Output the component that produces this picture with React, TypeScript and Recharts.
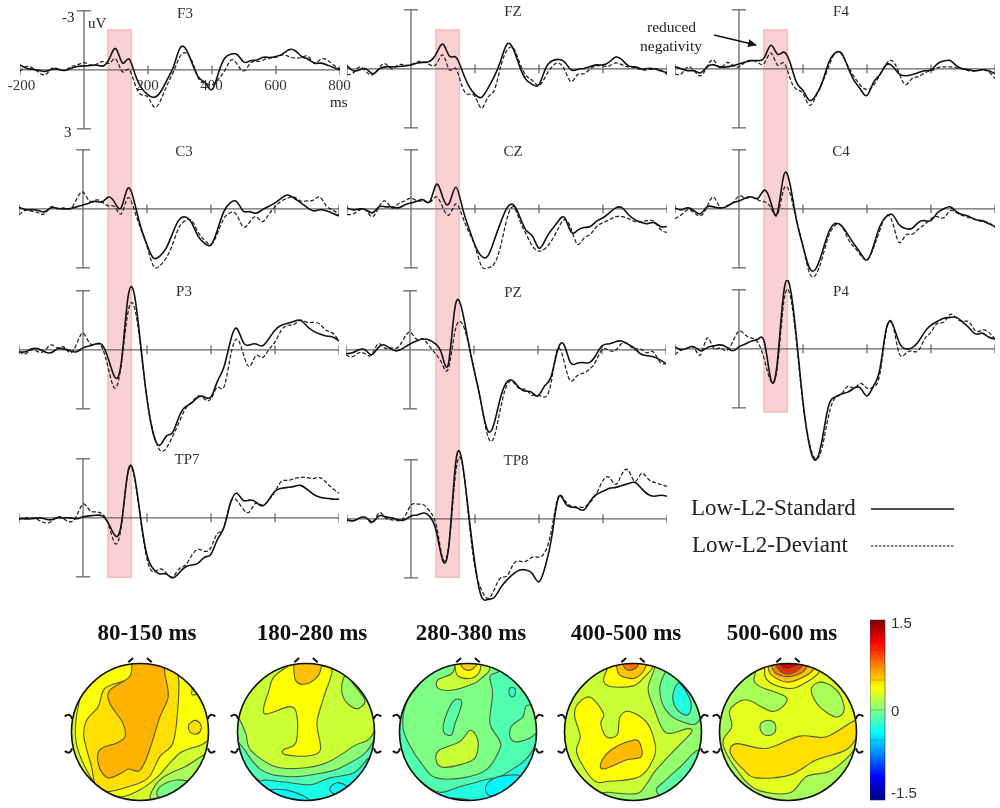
import { LineChart, Line, XAxis, YAxis, ReferenceLine, ReferenceArea, ReferenceDot, ScatterChart, Scatter, BarChart, Bar } from 'recharts'

const TIMES = [
  -200, -180, -160, -140, -120, -100, -80, -60, -40, -20,
  0, 20, 40, 60, 80, 100, 120, 140, 160, 180,
  200, 220, 240, 260, 280, 300, 320, 340, 360, 380,
  400, 420, 440, 460, 480, 500, 520, 540, 560, 580,
  600, 620, 640, 660, 680, 700, 720, 740, 760, 780,
  800,
]
const X_TICKS = [-200, 200, 400, 600, 800]
const X_TICK_LABELS = [-200, 200, 400, 600, 800]
const BAND_MS = [78, 151]

// amplitudes in uV, negative is drawn upwards
const F3_STD = [
  -.25, -.08, -.03, .03, .08, -.03, -.03, .03, -.08, -.17,
  -.2, -.22, -.24, -.2, -.6, -1.07, -.35, -.56, .25, .93,
  1.27, 1.39, 1.1, .5, -.17, -1.1, -1.02, -.25, .42, .68,
  1.0, .17, -.6, -.81, -.76, -.39, -.46, -.5, -.64, -.63,
  -.68, -.8, -1.02, -.97, -.68, -.54, -.34, -.34, -.25, -.12,
  0,
]
const F3_DEV = [
  .08, -.17, -.08, .14, .24, -.08, -.03, .03, -.17, -.25,
  -.37, -.25, -.3, -.42, -.34, -.54, .1, -.03, .76, 1.27,
  1.39, 1.9, 1.53, .76, .08, -.68, -.85, -.34, .5, .68,
  .76, .47, .03, -.5, -.25, .05, -.34, -.42, -.5, -.6,
  -.64, -.76, -.68, -.6, -.64, -.68, -.34, -.54, -.5, -.25,
  -.05,
]
const C3_STD = [
  -.08, .03, .05, .08, .15, -.05, -.03, 0, -.02, -.1,
  -.2, -.3, -.38, -.35, -.6, -.3, -.08, -1.05, -.37, .9,
  1.83, 2.5, 2.4, 2.0, 1.24, .56, .42, .73, 1.4, 1.75,
  1.83, 1.07, .14, -.3, -.37, .1, .14, .22, .05, -.12,
  -.3, -.54, -.7, -.54, -.32, -.08, .1, .05, .1, .22,
  .36,
]
const C3_DEV = [
  .3, .08, .12, .2, .25, -.1, 0, -.05, 0, -.5,
  -.85, -.4, -.45, -.35, -.15, -.1, .25, -.55, .05, 1.0,
  1.9, 2.9, 2.9, 2.5, 1.8, .95, .6, .6, 1.2, 1.6,
  1.8, 1.25, .5, .2, .3, .9, .7, .4, .65, .3,
  -.1, -.4, -.55, -.6, -.4, -.4, -.45, -.6, -.15, .05,
  .3,
]
const P3_STD = [
  .1, .1, -.05, -.05, .1, .15, -.05, -.05, .05, .1,
  -.1, -.2, -.3, -.25, .5, 1.4, .6, -2.6, -2.85, -.3,
  2.5, 4.3, 4.85, 4.4, 4.2, 3.4, 2.9, 2.7, 2.4, 2.4,
  2.4, 1.6, .9, -.4, -1.1, -.4, -.25, -.3, -.2, -.55,
  -1.0, -1.25, -1.35, -1.45, -1.5, -1.2, -.95, -.8, -.7, -.65,
  -.45,
]
const P3_DEV = [
  .1, .2, 0, .1, .05, -.25, -.1, -.15, .15, -.3,
  -.85, -.35, -.3, -.1, 1.0, 1.95, .7, -1.85, -2.2, -.15,
  2.5, 4.2, 5.1, 5.0, 4.4, 3.7, 3.0, 2.65, 2.35, 2.5,
  2.5, 1.9, 1.9, .4, -.55, .15, .85, .3, .4, 0,
  -.4, -1.0, -1.25, -1.3, -1.5, -1.4, -1.4, -1.3, -1.0, -.85,
  -.45,
]
const TP7_STD = [
  .05, .05, .05, 0, .05, .1, 0, 0, 0, .05,
  -.05, -.1, -.13, -.1, .3, .9, .3, -2.3, -2.2, 0,
  1.9, 2.6, 2.85, 2.85, 3.05, 2.8, 2.5, 2.4, 2.3, 2.0,
  1.85, 1.1, .5, -.7, -1.25, -.9, -.9, -.8, -.6, -.9,
  -1.35, -1.5, -1.55, -1.6, -1.65, -1.45, -1.2, -1.05, -1.0, -.95,
  -.95,
]
const TP7_DEV = [
  .05, 0, 0, .1, .25, .2, -.05, .05, .2, -.1,
  -.7, -.4, -.3, -.2, .35, 1.3, .4, -2.25, -2.1, .1,
  2.1, 2.75, 2.6, 2.8, 3.0, 2.6, 2.4, 1.9, 1.6, 1.7,
  1.5, .8, .5, -.75, -.9, -.45, -.3, -.75, -.65, -.9,
  -1.35, -1.85, -1.9, -2.0, -2.05, -2.05, -2.0, -2.05, -1.8, -1.5,
  -1.25,
]
const FZ_STD = [
  -.15, .1, .05, 0, .25, .02, -.1, -.1, -.12, -.15,
  -.2, -.3, -.33, -.4, -.8, -1.25, -.65, -.6, .1, .85,
  1.3, 1.45, 1.0, .4, -.4, -1.25, -1.0, -.1, .55, .8,
  .8, 0, -.4, -.48, -.35, .05, .03, -.02, -.12, -.2,
  -.2, -.35, -.6, -.45, -.15, -.1, 0, -.02, 0, .1,
  .2,
]
const FZ_DEV = [
  .3, .2, -.1, .15, .3, -.05, -.25, 0, -.2, -.2,
  -.2, -.35, -.35, -.2, -.25, -.7, .05, -.02, .9, 1.3,
  1.4, 2.0, 1.45, 1.1, -.1, -.95, -1.05, -.3, .35, .6,
  .85, .4, -.1, -.3, .05, .65, .3, .25, 0, -.15,
  -.15, -.15, -.3, -.2, -.1, -.05, .05, .05, 0, .05,
  .3,
]
const CZ_STD = [
  -.05, .05, 0, .05, .2, -.1, -.1, -.1, -.05, -.2,
  -.3, -.4, -.45, -.4, -1.25, -.55, -.3, -1.1, -.1, .95,
  1.85, 2.4, 2.4, 1.6, .7, -.05, -.2, .4, 1.1, 1.4,
  2.0, 1.56, 1.05, .63, .45, 1.17, 1.1, .95, .9, .63,
  .45, .2, -.05, -.05, .3, .55, .7, .75, .7, .9,
  .9,
]
const CZ_DEV = [
  .3, .25, .05, .1, .4, -.1, -.4, -.05, -.25, -.4,
  -.55, -.4, -.4, -.35, -.6, -.05, .3, -.25, .35, 1.15,
  1.9, 2.9, 3.0, 2.8, 1.9, .5, -.1, .6, 1.3, 1.9,
  2.15, 2.0, 1.6, 1.0, .55, 1.0, 1.8, 1.5, 1.3, .9,
  .7, .55, .4, .4, .5, .65, .65, .6, .65, 1.05,
  1.2,
]
const PZ_STD = [
  .2, .15, 0, 0, .25, -.1, -.25, -.05, .05, -.1,
  -.3, -.45, -.55, -.5, -.3, .25, .7, -2.1, -2.2, -.6,
  1.0, 2.5, 4.0, 3.9, 2.6, 1.7, 1.55, 1.9, 2.1, 2.15,
  2.35, 1.85, 1.4, .1, -.3, .6, .7, .65, .65, .3,
  -.2, -.3, -.4, -.45, -.3, -.1, .2, .3, .35, .5,
  .7,
]
const PZ_DEV = [
  .25, .35, .15, .2, .25, -.3, -.1, -.1, -.1, -.55,
  -.9, -.55, -.55, -.2, .2, .7, .95, -.9, -1.4, -.5,
  1.0, 2.5, 4.2, 4.55, 3.2, 1.9, 1.6, 1.95, 2.0, 2.3,
  2.3, 2.4, 1.75, 0, .5, 1.55, 1.35, 1.2, 1.0, .6,
  0, 0, .05, -.3, -.3, -.05, -.05, .15, .1, .6,
  .7,
]
const TP8_STD = [
  .05, .1, -.05, -.05, .15, -.15, -.1, -.05, .05, .05,
  -.15, -.2, -.3, -.1, .7, 2.15, 1.1, -2.9, -2.9, -.3,
  2.3, 3.95, 4.1, 4.0, 3.5, 3.1, 2.8, 2.6, 2.6, 2.8,
  3.2, 2.4, .9, -1.05, -.85, -.6, -.55, -.45, -.9, -1.25,
  -1.4, -1.55, -1.6, -1.7, -1.8, -1.85, -1.55, -1.25, -1.15, -1.2,
  -1.15,
]
const TP8_DEV = [
  .05, .1, -.05, -.05, .2, -.3, -.05, .05, .1, -.1,
  -.7, -.75, -.7, -.35, .4, 2.05, 1.05, -2.4, -2.8, -.1,
  2.5, 3.6, 4.05, 3.6, 3.0, 2.9, 2.3, 2.15, 2.15, 1.95,
  1.95, 1.65, .5, -1.1, -.95, -.65, -.6, -.6, -.85, -1.3,
  -1.95, -2.1, -1.75, -2.3, -2.45, -1.9, -2.3, -2.05, -1.85, -1.75,
  -1.65,
]
const F4_STD = [
  -.1, 0, .1, .1, .2, -.1, -.2, -.1, -.1, -.15,
  -.25, -.35, -.42, -.42, -.6, -1.2, -.75, -.85, -.3, .7,
  1.1, 1.6, 1.35, .7, -.3, -.8, -.8, -.1, .6, 1.05,
  1.35, .7, .3, -.2, -.13, .25, .35, .3, .2, .1,
  .05, -.25, -.4, -.42, -.15, 0, .05, .1, .05, .1,
  .25,
]
const F4_DEV = [
  .25, .25, -.1, .1, .35, -.1, -.45, -.05, -.3, -.2,
  -.1, -.35, -.42, -.3, -.3, -.8, -.2, -.3, .5, 1.05,
  1.25, 1.85, 1.4, .7, -.1, -.8, -.75, -.15, .4, .85,
  1.05, .85, .3, -.25, -.4, .2, .8, .5, .4, .2,
  .1, -.05, -.1, -.1, -.05, 0, .1, .1, .05, .15,
  .5,
]
const C4_STD = [
  -.05, .05, -.05, .1, .25, -.1, -.1, -.05, -.1, -.3,
  -.4, -.55, -.6, -.55, -.95, -.3, .2, -1.7, -1.2, .6,
  1.9, 3.0, 3.05, 2.2, 1.2, .75, .85, 1.3, 1.8, 2.25,
  2.6, 1.9, .9, .4, .3, .8, 1.0, 1.0, .7, .6,
  .6, .2, 0, -.1, .15, .3, .4, .55, .6, .75,
  .9,
]
const C4_DEV = [
  .5, .3, .05, .2, .35, -.1, -.6, -.1, -.15, -.3,
  -.65, -.55, -.6, -.45, -.35, -.05, .3, -1.0, -.75, .6,
  1.9, 3.25, 3.35, 2.5, 1.4, .85, .85, 1.5, 1.95, 2.35,
  2.6, 2.0, 1.1, .35, .7, 1.7, 1.35, 1.3, 1.05, .8,
  .5, .4, .45, .1, .2, .35, .45, .55, .65, .7,
  .95,
]
const P4_STD = [
  -.1, .05, -.05, -.1, .1, -.05, -.15, -.2, -.1, .1,
  -.1, -.25, -.4, -.5, -.3, 1.6, .65, -2.9, -3.1, -.5,
  2.7, 4.9, 5.65, 4.6, 2.9, 2.45, 2.3, 2.2, 2.0, 2.0,
  2.4, 1.9, 1.05, -1.0, -1.25, -.35, 0, -.05, -.35, -.85,
  -1.2, -1.4, -1.55, -1.6, -1.6, -1.35, -1.05, -.75, -.8, -.6,
  -.5,
]
const P4_DEV = [
  .3, .05, -.05, -.05, .3, -.55, -.05, -.05, .1, -.35,
  -.9, -.7, -.55, -.3, .6, 1.65, .9, -2.4, -2.7, -.3,
  2.8, 4.8, 5.6, 5.0, 3.4, 2.5, 2.3, 1.9, 2.0, 1.75,
  2.0, 1.95, 1.3, -.9, -1.25, .2, .25, .1, .1, -.5,
  -.85, -1.3, -1.35, -1.75, -1.55, -1.4, -1.35, -.9, -.95, -.85,
  -.5,
]

// topographic maps: contour polygons as [x, y] in % of head radius, painted in order
type Contour = { level: number; pts: number[][] }

const MAP1_BASE = .24
const MAP1: Contour[] = [
  { level: .36, pts: [[-88, 47], [-93, -16], [-66, -75], [-34, -94], [-5, -87], [24, -67], [58, -31], [101, -9], [106, 56], [77, 54], [75, 66], [55, 95], [-20, 114], [-68, 85]] },
  { level: .47, pts: [[-8, 110], [-8, 100], [-17, 78], [-51, 64], [-61, 37], [-78, 17], [-82, -7], [-71, -50], [-64, -80], [-47, -87], [-17, -80], [12, -67], [29, -36], [48, -16], [55, 32], [55, 83], [31, 97], [31, 110]] },
  { level: .6, pts: [[-8, 108], [-15, 81], [-44, 61], [-44, 42], [-25, 13], [-22, -7], [-34, -16], [-59, -26], [-60, -50], [-47, -67], [-27, -60], [-17, -54], [0, -56], [14, -26], [29, 22], [41, 51], [37, 81], [29, 108]] },
  { level: .47, pts: [[80, 17], [88, 12], [89, 3], [82, -3], [73, 0], [71, 10]] },
  { level: .12, pts: [[107, -31], [67, -50], [29, -70], [16, -101], [60, -110], [120, -80]] },
  { level: -.02, pts: [[29, -80], [53, -70], [77, -75], [72, -89], [48, -97], [26, -94]] },
]
const MAP2_BASE = -.3
const MAP2: Contour[] = [
  { level: -.14, pts: [[-73, -67], [-57, -70], [-23, -74], [6, -77], [35, -67], [69, -60], [88, -41], [103, -16], [115, 110], [-125, 110], [-105, -20]] },
  { level: .03, pts: [[-98, -16], [-66, -55], [-28, -65], [11, -62], [55, -50], [100, -9], [115, 110], [-125, 110], [-115, -10]] },
  { level: .22, pts: [[-100, 22], [-88, -2], [-81, -26], [-47, -50], [-8, -53], [30, -45], [69, -21], [100, 3], [115, 110], [-125, 110], [-120, 30]] },
  { level: .08, pts: [[59, 85], [52, 66], [57, 46], [74, 34], [86, 46], [69, 70]] },
  { level: .37, pts: [[-28, 95], [-47, 80], [-54, 61], [-61, 27], [-23, 37], [-13, 22], [-15, -16], [-33, -26], [-30, -33], [1, -35], [21, -26], [16, 13], [26, 51], [38, 90], [21, 97], [0, 110]] },
  { level: .56, pts: [[-18, 97], [-15, 75], [-1, 70], [16, 80], [23, 97], [23, 115], [-18, 115]] },
  { level: -.38, pts: [[35, -82], [45, -74], [59, -79], [55, -89], [40, -90]] },
  { level: -.38, pts: [[-54, -86], [-23, -86], [6, -101], [-30, -110]] },
]
const MAP3_BASE = -.28
const MAP3: Contour[] = [
  { level: -.14, pts: [[-99, -26], [-87, -55], [-46, -87], [-12, -80], [24, -70], [56, -60], [99, -16], [115, 110], [-125, 110], [-115, -20]] },
  { level: -.01, pts: [[-70, 71], [-90, 42], [-95, 8], [-87, -16], [-65, -50], [-46, -67], [-7, -67], [27, -55], [46, -26], [46, -12], [32, 13], [36, 56], [32, 81], [44, 90], [17, 110], [-32, 110]] },
  { level: .22, pts: [[-19, 97], [-24, 85], [-44, 76], [-44, 64], [-24, 61], [7, 70], [19, 78], [32, 93], [17, 115], [-19, 115]] },
  { level: .38, pts: [[-19, 97], [-15, 82], [2, 78], [15, 85], [19, 97], [19, 115], [-19, 115]] },
  { level: .52, pts: [[-10, 97], [0, 90], [12, 97], [12, 112], [-10, 112]] },
  { level: .22, pts: [[2, 2], [-12, -14], [-41, -26], [-47, -38], [-39, -51], [-12, -48], [10, -38], [15, -16], [10, -2]] },
  { level: -.12, pts: [[-19, 47], [-29, 32], [-36, 10], [-34, -2], [-24, -4], [-19, 12], [-10, 37], [-10, 46]] },
  { level: -.01, pts: [[87, 39], [80, 22], [63, 8], [62, -9], [75, -14], [99, -2], [115, 30]] },
  { level: -.25, pts: [[61, 64], [60, 56], [65, 51], [69, 56], [68, 64]] },
  { level: -.4, pts: [[27, -77], [39, -67], [61, -63], [75, -65], [56, -84], [36, -93], [27, -89]] },
  { level: -.4, pts: [[-27, -97], [5, -101], [-27, -110]] },
]
const MAP4_BASE = .06
const MAP4: Contour[] = [
  { level: .22, pts: [[31, 92], [22, 63], [31, 34], [48, -1], [80, 5], [85, -1], [63, -24], [34, -55], [19, -77], [5, -90], [-36, -88], [-58, -86], [-97, -50], [-125, -40], [-125, 110], [31, 110]] },
  { level: -.08, pts: [[46, 85], [39, 61], [48, 32], [72, 15], [97, 17], [115, 80], [60, 100]] },
  { level: -.28, pts: [[65, 71], [58, 51], [65, 32], [80, 25], [85, 41], [75, 63]] },
  { level: -.1, pts: [[34, -86], [48, -70], [70, -50], [97, -26], [115, -50], [60, -100]] },
  { level: .38, pts: [[-36, 97], [-43, 75], [-31, 66], [2, 68], [19, 83], [29, 95], [29, 115], [-36, 115]] },
  { level: .55, pts: [[-24, 97], [-19, 83], [0, 78], [12, 85], [19, 97], [19, 115], [-24, 115]] },
  { level: .78, pts: [[-14, 97], [-5, 90], [7, 97], [7, 115], [-14, 115]] },
  { level: .38, pts: [[-63, 51], [-82, 39], [-85, 22], [-77, -7], [-82, -31], [-58, -70], [-34, -72], [10, -65], [31, -36], [31, -12], [19, 15], [-5, 30], [-19, 22], [-23, -4], [-39, -7], [-47, 13], [-43, 27]] },
  { level: .58, pts: [[0, -12], [-29, -24], [-46, -43], [-43, -54], [-10, -41], [12, -36], [10, -16]] },
]
const MAP5_BASE = .12
const MAP5: Contour[] = [
  { level: .29, pts: [[-48, 85], [-44, 68], [-2, 50], [-22, 30], [-61, 47], [-85, 32], [-82, 8], [-95, -16], [-75, -55], [-46, -84], [2, -89], [27, -65], [65, -55], [102, -16], [115, 60], [60, 115], [-30, 115]] },
  { level: .12, pts: [[41, 71], [34, 59], [46, 37], [70, 22], [82, 32], [75, 56], [56, 71]] },
  { level: .08, pts: [[-29, 17], [-19, 12], [-19, 0], [-29, -5], [-39, 0], [-40, 12]] },
  { level: .47, pts: [[99, 17], [56, -7], [17, -6], [-32, -24], [-75, -17], [-84, -31], [-65, -55], [-46, -67], [2, -63], [41, -41], [85, -26], [102, -2]] },
  { level: .38, pts: [[-34, 97], [-32, 78], [-12, 66], [12, 65], [46, 88], [36, 110], [-34, 110]] },
  { level: .55, pts: [[-29, 97], [-24, 83], [2, 73], [36, 90], [29, 110], [-29, 110]] },
  { level: .75, pts: [[-24, 97], [-17, 85], [2, 81], [24, 90], [29, 110], [-24, 110]] },
  { level: 1.0, pts: [[-19, 105], [-10, 88], [7, 86], [22, 100], [7, 110]] },
  { level: 1.25, pts: [[-12, 100], [-2, 92], [15, 100], [5, 110]] },
]

const COLORBAR_TICKS = [-1.5, 0, 1.5]
const COLORBAR_MINOR = [-1, -.5, 0, .5, 1]

const PX_PER_UV = 19.67
const TOP_UV = 3.5
const BOTTOM_UV = 6
const PLOT_W = 320

const SERIF = '"Liberation Serif", serif'
const AXIS_COLOR = '#666'

const toRows = (std: number[], dev: number[]) =>
  TIMES.map((t, i) => ({ t, std: std[i], dev: dev[i] }))

function jet(v: number) {
  const t = (v + 1.5) / 3
  const c = (x: number) => Math.round(255 * Math.max(0, Math.min(1, 1.5 - Math.abs(4 * t - x))))
  return `rgb(${c(3)},${c(2)},${c(1)})`
}

// closed spline through every contour point, the d3 closed curves all cut the corners
function closedSpline(ctx: any) {
  let pts: number[][] = []
  return {
    areaStart() {},
    areaEnd() {},
    lineStart() { pts = [] },
    point(x: number, y: number) { pts.push([x, y]) },
    lineEnd() {
      const n = pts.length
      if (!n) return
      ctx.moveTo(pts[0][0], pts[0][1])
      for (let i = 0; i < n; i++) {
        const a = pts[(i - 1 + n) % n], b = pts[i], c = pts[(i + 1) % n], d = pts[(i + 2) % n]
        ctx.bezierCurveTo(b[0] + (c[0] - a[0]) / 6, b[1] + (c[1] - a[1]) / 6, c[0] - (d[0] - b[0]) / 6, c[1] - (d[1] - b[1]) / 6, c[0], c[1])
      }
      ctx.closePath()
    },
  }
}

function Panel({ name, std, dev, left, axisY, labelX, labelY, withScale }: any) {
  return (
    <>
      <div style={{ position: 'absolute', left, top: axisY - TOP_UV * PX_PER_UV }}>
        <LineChart
          width={PLOT_W}
          height={(TOP_UV + BOTTOM_UV) * PX_PER_UV}
          data={toRows(std, dev)}
          margin={{ top: 0, right: 0, bottom: 0, left: 0 }}
          style={{ overflow: 'visible' }}
        >
          <XAxis dataKey="t" type="number" domain={[-200, 800]} hide allowDataOverflow />
          <YAxis type="number" domain={[-TOP_UV, BOTTOM_UV]} reversed hide allowDataOverflow />
          <ReferenceLine y={0} stroke={AXIS_COLOR} strokeWidth={1.3} />
          <ReferenceLine segment={[{ x: 0, y: -3 }, { x: 0, y: 3 }]} stroke={AXIS_COLOR} strokeWidth={1.3} />
          <ReferenceLine segment={[{ x: -22, y: -3 }, { x: 22, y: -3 }]} stroke={AXIS_COLOR} strokeWidth={1.3} />
          <ReferenceLine segment={[{ x: -22, y: 3 }, { x: 22, y: 3 }]} stroke={AXIS_COLOR} strokeWidth={1.3} />
          {X_TICKS.map(t => (
            <ReferenceLine key={t} segment={[{ x: t, y: -.22 }, { x: t, y: .22 }]} stroke={AXIS_COLOR} strokeWidth={1.3} />
          ))}
          <Line dataKey="dev" type="natural" stroke="#222" strokeWidth={1.25} strokeDasharray="4 2" dot={false} isAnimationActive={false} />
          <Line dataKey="std" type="natural" stroke="#111" strokeWidth={1.6} dot={false} isAnimationActive={false} />
        </LineChart>
      </div>
      <div style={{ position: 'absolute', left: labelX - 30, width: 60, top: labelY - 9, textAlign: 'center', font: `15px ${SERIF}`, color: '#333' }}>{name}</div>
      {withScale && X_TICK_LABELS.map(t => (
        <div key={t} style={{ position: 'absolute', left: left + (t + 200) * .32 - 30 + (t < 0 ? 2 : 0), width: 60, top: axisY + 7, textAlign: 'center', font: `15px ${SERIF}`, color: '#333' }}>{t}</div>
      ))}
    </>
  )
}

function BandColumn({ left, bottomUv }: { left: number; bottomUv: number }) {
  return (
    <div style={{ position: 'absolute', left, top: 70 - TOP_UV * PX_PER_UV }}>
      <LineChart width={PLOT_W} height={30 * PX_PER_UV} data={[]} margin={{ top: 0, right: 0, bottom: 0, left: 0 }}>
        <XAxis dataKey="t" type="number" domain={[-200, 800]} hide allowDataOverflow />
        <YAxis type="number" domain={[-TOP_UV, 26.5]} reversed hide allowDataOverflow />
        <ReferenceArea x1={BAND_MS[0]} x2={BAND_MS[1]} y1={-2.03} y2={bottomUv} fill="#fbd0d2" fillOpacity={1} stroke="#f6bcbc" strokeWidth={1.5} />
      </LineChart>
    </div>
  )
}

const HEAD_SIZE = 170
const HEAD_DOMAIN = [-124.1, 124.1]
const EARS = [
  [[-110, 23], [-103, 25], [-99, 19]],
  [[-110, -28], [-103, -30], [-99, -24]],
  [[110, 23], [103, 25], [99, 19]],
  [[110, -28], [103, -30], [99, -24]],
  [[-17, 102], [-10, 108]],
  [[17, 102], [10, 108]],
]
const toPoints = (pts: number[][]) => pts.map(([x, y]) => ({ x, y }))

function HeadMap({ title, contours, base, cx, titleX }: any) {
  const axes = (
    <>
      <XAxis dataKey="x" type="number" domain={HEAD_DOMAIN} hide allowDataOverflow />
      <YAxis dataKey="y" type="number" domain={HEAD_DOMAIN} hide allowDataOverflow />
    </>
  )
  return (
    <>
      <div style={{ position: 'absolute', left: titleX - 70, width: 140, top: 620, textAlign: 'center', font: `bold 23px ${SERIF}`, color: '#111', whiteSpace: 'nowrap' }}>{title}</div>
      <div style={{ position: 'absolute', left: cx - HEAD_SIZE / 2, top: 732 - HEAD_SIZE / 2, width: HEAD_SIZE, height: HEAD_SIZE, clipPath: 'circle(68.5px at 50% 50%)', background: jet(base) }}>
        <ScatterChart width={HEAD_SIZE} height={HEAD_SIZE} margin={{ top: 0, right: 0, bottom: 0, left: 0 }}>
          {axes}
          {contours.map((c: Contour, i: number) => (
            <Scatter
              key={i}
              data={toPoints(c.pts)}
              line={{ fill: jet(c.level), stroke: '#4d5a45', strokeWidth: 1.1 }}
              lineJointType={closedSpline as any}
              shape={() => <g />}
              isAnimationActive={false}
            />
          ))}
        </ScatterChart>
      </div>
      <div style={{ position: 'absolute', left: cx - HEAD_SIZE / 2, top: 732 - HEAD_SIZE / 2 }}>
        <ScatterChart width={HEAD_SIZE} height={HEAD_SIZE} margin={{ top: 0, right: 0, bottom: 0, left: 0 }}>
          {axes}
          <ReferenceDot x={0} y={0} r={68.5} fill="none" stroke="#111" strokeWidth={1.6} />
          {EARS.map((e, i) => (
            <Scatter key={i} data={toPoints(e)} line={{ stroke: '#111', strokeWidth: 2 }} lineJointType="natural" shape={() => <g />} isAnimationActive={false} />
          ))}
        </ScatterChart>
      </div>
    </>
  )
}

function ColorBar() {
  const tick = ({ x, y, payload }: any) => (
    <text x={x - 4} y={y + (payload.value > 0 ? 8 : payload.value < 0 ? -2 : 6)} fontSize={15} fontFamily='"Liberation Sans", sans-serif' fill="#333">{payload.value}</text>
  )
  return (
    <div style={{ position: 'absolute', left: 870, top: 610 }}>
      <BarChart width={60} height={200} data={[{ range: [-1.5, 1.5] }]} margin={{ top: 10, right: 0, bottom: 10, left: 0 }} barCategoryGap={0}>
        <defs>
          <linearGradient id="jetBar" x1="0" y1="0" x2="0" y2="1">
            <stop offset="0%" stopColor="#7f0000" />
            <stop offset="12.5%" stopColor="#ff0000" />
            <stop offset="37.5%" stopColor="#ffff00" />
            <stop offset="62.5%" stopColor="#00ffff" />
            <stop offset="87.5%" stopColor="#0000ff" />
            <stop offset="100%" stopColor="#00007f" />
          </linearGradient>
        </defs>
        <XAxis hide />
        <YAxis orientation="right" width={45} type="number" domain={[-1.5, 1.5]} ticks={COLORBAR_TICKS} interval={0} tick={tick} axisLine={false} tickLine={false} tickMargin={4} />
        <Bar dataKey="range" fill="url(#jetBar)" stroke="#335" strokeWidth={.6} isAnimationActive={false} />
        {COLORBAR_MINOR.map(v => <ReferenceLine key={v} y={v} stroke="#223" strokeOpacity={.4} strokeWidth={.6} />)}
      </BarChart>
    </div>
  )
}

const textAt = (left: number, top: number, size: number, extra: any = {}) => ({
  position: 'absolute' as const, left, top, font: `${size}px ${SERIF}`, color: '#222', whiteSpace: 'nowrap' as const, ...extra,
})

export default function App() {
  return (
    <div style={{ position: 'absolute', left: 0, top: 0, width: 1000, height: 808, background: '#fff', overflow: 'hidden', filter: 'blur(0.35px)' }}>
      <BandColumn left={19} bottomUv={25.8} />
      <BandColumn left={347} bottomUv={25.8} />
      <BandColumn left={675} bottomUv={17.4} />

      <Panel name="F3" std={F3_STD} dev={F3_DEV} left={19.5} axisY={70} labelX={185} labelY={14} withScale />
      <Panel name="C3" std={C3_STD} dev={C3_DEV} left={19} axisY={209} labelX={184} labelY={152} />
      <Panel name="P3" std={P3_STD} dev={P3_DEV} left={19} axisY={350} labelX={184} labelY={292} />
      <Panel name="TP7" std={TP7_STD} dev={TP7_DEV} left={19} axisY={518} labelX={187} labelY={460} />
      <Panel name="FZ" std={FZ_STD} dev={FZ_DEV} left={347} axisY={69} labelX={513} labelY={12} />
      <Panel name="CZ" std={CZ_STD} dev={CZ_DEV} left={347} axisY={209} labelX={513} labelY={152} />
      <Panel name="PZ" std={PZ_STD} dev={PZ_DEV} left={346} axisY={350} labelX={513} labelY={293} />
      <Panel name="TP8" std={TP8_STD} dev={TP8_DEV} left={347} axisY={519} labelX={516} labelY={461} />
      <Panel name="F4" std={F4_STD} dev={F4_DEV} left={675} axisY={69} labelX={841} labelY={12} />
      <Panel name="C4" std={C4_STD} dev={C4_DEV} left={675} axisY={209} labelX={841} labelY={152} />
      <Panel name="P4" std={P4_STD} dev={P4_DEV} left={675} axisY={349} labelX={841} labelY={292} />

      <div style={textAt(62, 9, 15)}>-3</div>
      <div style={textAt(88, 15, 15)}>uV</div>
      <div style={textAt(64, 124, 15)}>3</div>
      <div style={textAt(330, 94, 15)}>ms</div>
      <div style={textAt(647, 18, 15.5)}>reduced</div>
      <div style={textAt(640, 37, 15.5)}>negativity</div>
      <svg width={1000} height={808} style={{ position: 'absolute', left: 0, top: 0, pointerEvents: 'none' }}>
        <defs>
          <marker id="arrowHead" markerWidth={9} markerHeight={8} refX={8} refY={4} orient="auto" markerUnits="userSpaceOnUse">
            <path d="M0,0 L9,4 L0,8 Z" fill="#111" />
          </marker>
        </defs>
        <line x1={714} y1={35} x2={756} y2={45} stroke="#111" strokeWidth={1.4} markerEnd="url(#arrowHead)" />
        <line x1={871} y1={509} x2={954} y2={509} stroke="#111" strokeWidth={1.6} />
        <line x1={871} y1={546} x2={955} y2={546} stroke="#111" strokeWidth={1.2} strokeDasharray="2.5 1.5" />
      </svg>
      <div style={textAt(691, 495, 23)}>Low-L2-Standard</div>
      <div style={textAt(692, 532, 23)}>Low-L2-Deviant</div>

      <HeadMap title="80-150 ms" contours={MAP1} base={MAP1_BASE} cx={140} titleX={147} />
      <HeadMap title="180-280 ms" contours={MAP2} base={MAP2_BASE} cx={306} titleX={312} />
      <HeadMap title="280-380 ms" contours={MAP3} base={MAP3_BASE} cx={468} titleX={471} />
      <HeadMap title="400-500 ms" contours={MAP4} base={MAP4_BASE} cx={633} titleX={626} />
      <HeadMap title="500-600 ms" contours={MAP5} base={MAP5_BASE} cx={788} titleX={782} />
      <ColorBar />
    </div>
  )
}
